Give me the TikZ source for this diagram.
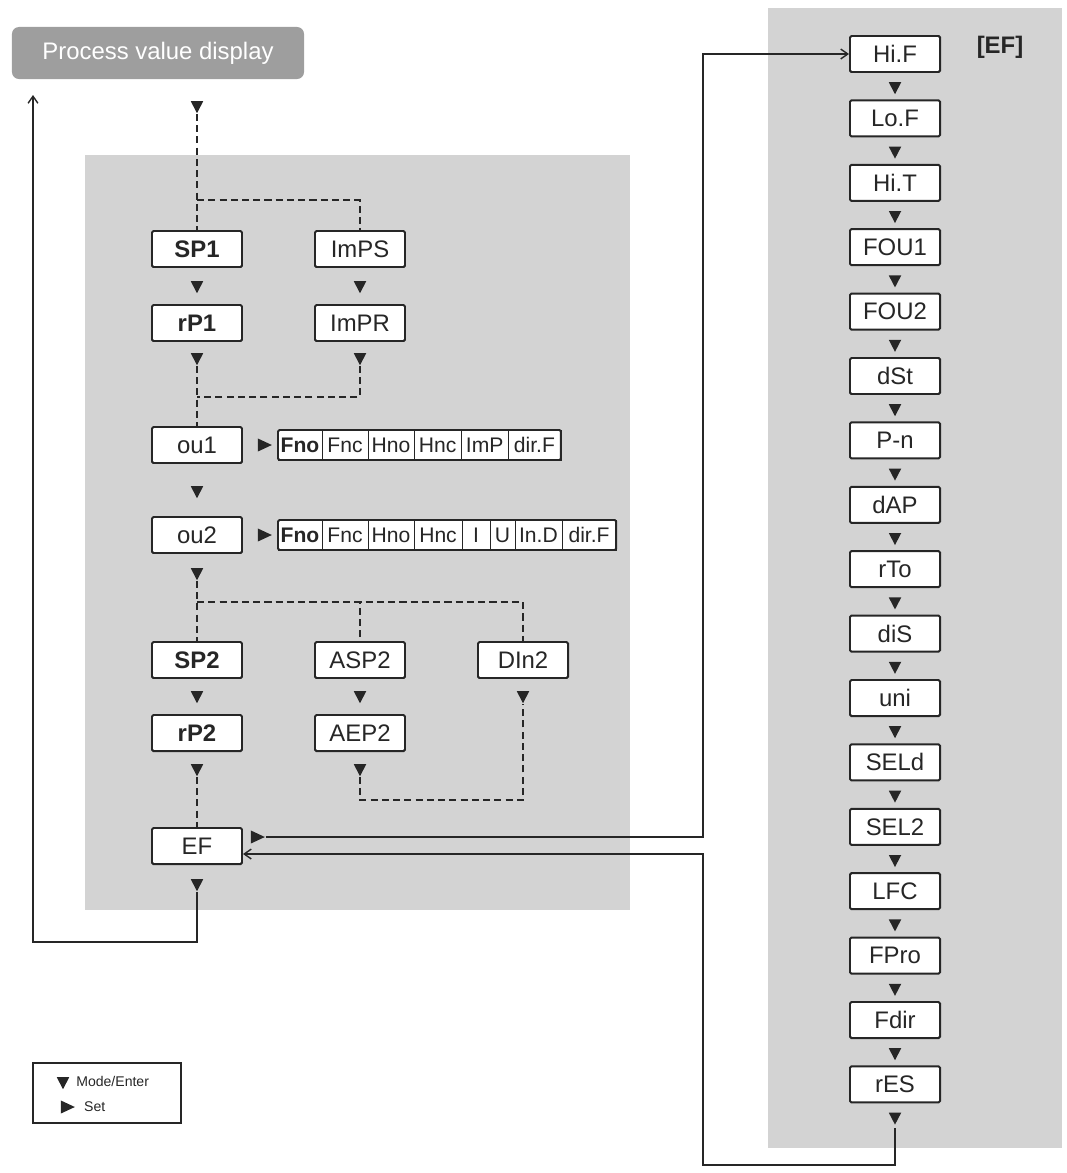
\documentclass[tikz,border=0pt]{standalone}
\usepackage{fontspec}
\setmainfont{Liberation Sans}
\usetikzlibrary{positioning,shapes.geometric,arrows.meta}
\definecolor{panel}{HTML}{D3D3D3}
\definecolor{pvgray}{HTML}{9E9E9E}
\definecolor{ink}{HTML}{262626}
\tikzset{
  menu/.style={draw=ink,line width=1.4pt,fill=white,rounded corners=1pt,minimum width=2.25cm,minimum height=0.9cm,inner sep=0pt,font=\fontsize{17}{20}\selectfont,text=ink},
  dtri/.style={isosceles triangle,isosceles triangle apex angle=55,shape border rotate=-90,fill=ink,inner sep=0pt,minimum height=0.3cm},
  rtri/.style={isosceles triangle,isosceles triangle apex angle=50,fill=ink,inner sep=0pt,minimum height=0.35cm},
  cell/.style={draw=ink,line width=0.5pt,fill=white,minimum height=0.75cm,inner xsep=0.5pt,outer sep=0pt,font=\fontsize{15}{18}\selectfont,text=ink,anchor=west},
  dashline/.style={dash pattern=on 5pt off 3pt,line width=1pt,ink},
  link/.style={line width=1pt,ink}
}
\begin{document}
\begin{tikzpicture}[x=0.025cm,y=-0.025cm]
\useasboundingbox (0,0) rectangle (1067,1173);
% panels
\fill[panel] (85,155) rectangle (630,910);
\fill[panel] (768,8) rectangle (1062,1148);
\node[fill=pvgray,rounded corners=5pt,minimum width=7.3cm,minimum height=1.3cm,text=white,font=\fontsize{17}{20}\selectfont] (pv) at (158,53) {Process value display};
% left menu
\node[menu,font=\fontsize{17}{20}\selectfont\bfseries] (sp1) at (197,249) {SP1};
\node[menu,font=\fontsize{17}{20}\selectfont\bfseries] (rp1) at (197,323) {rP1};
\node[menu] (imps) at (360,249) {ImPS};
\node[menu] (impr) at (360,323) {ImPR};
\node[menu] (ou1) at (197,445) {ou1};
\node[menu] (ou2) at (197,535) {ou2};
\node[menu,font=\fontsize{17}{20}\selectfont\bfseries] (sp2) at (197,660) {SP2};
\node[menu,font=\fontsize{17}{20}\selectfont\bfseries] (rp2) at (197,733) {rP2};
\node[menu] (asp2) at (360,660) {ASP2};
\node[menu] (aep2) at (360,733) {AEP2};
\node[menu] (din2) at (523,660) {DIn2};
\node[menu] (ef) at (197,846) {EF};
% down markers
\foreach \n/\x/\y in {t0/197/105,t1/197/285,t2/360/285,t3/197/357,t4/360/357,t5/197/490,t6/197/572,t7/197/695,t8/360/695,t9/523/695,t10/197/768,t11/360/768,t12/197/883}
  \node[dtri] (\n) at (\x,\y) {};
% option strips
\node[rtri] (s1) at (262,445) {};
\node[rtri] (s2) at (262,535) {};
\node[cell,minimum width=1.1cm,font=\fontsize{15}{18}\selectfont\bfseries] (a1) at (278,445) {Fno};
\node[cell,minimum width=1.15cm,right=0pt of a1] (a2) {Fnc};
\node[cell,minimum width=1.15cm,right=0pt of a2] (a3) {Hno};
\node[cell,minimum width=1.18cm,right=0pt of a3] (a4) {Hnc};
\node[cell,minimum width=1.17cm,right=0pt of a4] (a5) {ImP};
\node[cell,minimum width=1.32cm,right=0pt of a5] (a6) {dir.F};
\draw[ink,line width=1.4pt,rounded corners=1pt] (a1.north west) rectangle (a6.south east);
\node[cell,minimum width=1.1cm,font=\fontsize{15}{18}\selectfont\bfseries] (b1) at (278,535) {Fno};
\node[cell,minimum width=1.15cm,right=0pt of b1] (b2) {Fnc};
\node[cell,minimum width=1.15cm,right=0pt of b2] (b3) {Hno};
\node[cell,minimum width=1.2cm,right=0pt of b3] (b4) {Hnc};
\node[cell,minimum width=0.7cm,right=0pt of b4] (b5) {I};
\node[cell,minimum width=0.62cm,right=0pt of b5] (b6) {U};
\node[cell,minimum width=1.18cm,right=0pt of b6] (b7) {In.D};
\node[cell,minimum width=1.35cm,right=0pt of b7] (b8) {dir.F};
\draw[ink,line width=1.4pt,rounded corners=1pt] (b1.north west) rectangle (b8.south east);
% dashed paths
\draw[dashline] (t0) -- (sp1.north);
\draw[dashline] (197,200) -| (imps.north);
\draw[dashline] (t3) -- (ou1.north);
\draw[dashline] (t4) |- (197,397);
\draw[dashline] (t6) -- (sp2.north);
\draw[dashline] (197,602) -| (asp2.north);
\draw[dashline] (197,602) -| (din2.north);
\draw[dashline] (t10) -- (ef.north);
\draw[dashline] (t11) |- (523,800) -- (t9);
% return to display
\coordinate (back) at (33,95);
\draw[link,-{Straight Barb[length=5pt,width=7pt]}] (t12) -- (197,942) -| (back);
% right menu
\foreach \n/\t [count=\i from 0] in {hif/Hi.F,lof/Lo.F,hit/Hi.T,fou1/FOU1,fou2/FOU2,dst/dSt,pn/P-n,dap/dAP,rto/rTo,dis/diS,uni/uni,seld/SELd,selt/SEL2,lfc/LFC,fpro/FPro,fdir/Fdir,res/rES}
{
  \node[menu] (\n) at (895,54+64.4*\i) {\t};
  \node[dtri] at (895,86+64.4*\i) {};
}
\node[font=\fontsize{17}{20}\selectfont\bfseries,text=ink] (eflabel) at (1000,47) {[EF]};
% links EF <-> right menu
\node[rtri] (s3) at (255,837) {};
\draw[link,-{Straight Barb[length=5pt,width=7pt]}] (s3) -- (703,837) |- (hif.west);
\coordinate (rb) at (895,1128);
\draw[link,-{Straight Barb[length=5pt,width=7pt]}] (rb) -- (895,1165) -| (703,854) -- (ef.east |- 0,854);
% legend
\draw[ink,line width=1pt] (33,1063) rectangle (181,1123);
\node[dtri] (lg1) at (63,1081) {};
\node[rtri] (lg2) at (65,1107) {};
\node[right=6pt of lg1,inner sep=0pt,font=\fontsize{10}{12}\selectfont,text=ink] (lt1) {Mode/Enter};
\node[right=6pt of lg2,inner sep=0pt,font=\fontsize{10}{12}\selectfont,text=ink] (lt2) {Set};
\end{tikzpicture}
\end{document}
